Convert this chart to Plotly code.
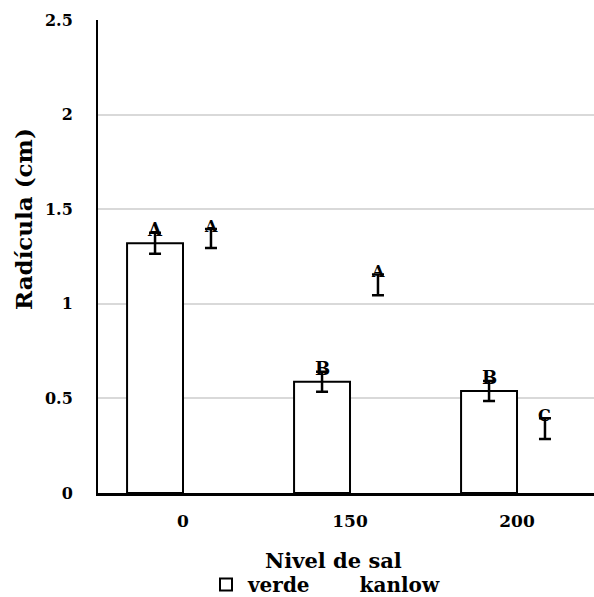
import plotly.graph_objects as go

categories = ["0", "150", "200"]
verde = [1.32, 0.588, 0.539]
verde_err = [0.055, 0.053, 0.053]
kanlow = [1.345, 1.10, 0.34]
kanlow_err = [0.05, 0.055, 0.055]
verde_letters = ["A", "B", "B"]
kanlow_letters = ["A", "A", "C"]
y_ticks = [0, 0.5, 1, 1.5, 2, 2.5]
y_ticktext = ["0", "0.5", "1", "1.5", "2", "2.5"]

FONT = "DejaVu Serif"
BW = 0.335
V_OFF = -0.335
K_OFF = 0.0

W, H = 594, 597
ML, MR, MT, MB = 98, 0, 20, 104
PW, PH = W - ML - MR, H - MT - MB


def px_x(p):
    return (p - ML) / PW


def px_y(p):
    return (H - MB - p) / PH


def f(size):
    return dict(family=FONT, size=size, color="black", weight="bold")


fig = go.Figure()
fig.add_trace(go.Bar(
    name="verde", x=categories, y=verde, width=BW, offset=V_OFF,
    marker=dict(color="white", line=dict(color="black", width=2)),
    error_y=dict(type="data", array=verde_err, color="black", thickness=2.5, width=6),
))
fig.add_trace(go.Bar(
    name="kanlow", x=categories, y=kanlow, width=BW, offset=K_OFF,
    marker=dict(color="rgba(255,255,255,0)", line=dict(color="rgba(0,0,0,0)", width=0)),
    error_y=dict(type="data", array=kanlow_err, color="black", thickness=2.5, width=6),
))

for i in range(len(categories)):
    fig.add_annotation(x=i + V_OFF + BW / 2, y=verde[i] + verde_err[i], text=verde_letters[i],
                       showarrow=False, yanchor="middle", yshift=3, font=f(18))
    fig.add_annotation(x=i + K_OFF + BW / 2, y=kanlow[i] + kanlow_err[i], text=kanlow_letters[i],
                       showarrow=False, yanchor="middle", yshift=3, font=f(16))

# axis titles
fig.add_annotation(xref="paper", yref="paper", x=px_x(333), y=px_y(560), text="Nivel de sal",
                   showarrow=False, xanchor="center", yanchor="middle", font=f(21))
fig.add_annotation(xref="paper", yref="paper", x=px_x(23), y=px_y(219), text="Radícula (cm)",
                   showarrow=False, xanchor="center", yanchor="middle", textangle=-90, font=f(23))

fig.update_layout(
    width=W, height=H,
    margin=dict(l=ML, r=MR, t=MT, b=MB, autoexpand=False),
    paper_bgcolor="white", plot_bgcolor="white",
    barmode="overlay",
    template="none",
    font=dict(family=FONT, color="black"),
    showlegend=True,
    legend=dict(orientation="h", x=px_x(204), xanchor="left", y=px_y(565), yanchor="top",
                font=f(20), itemwidth=34, traceorder="normal", bgcolor="rgba(0,0,0,0)"),
    xaxis=dict(
        type="category",
        range=[-0.509, 2.461], showgrid=False, zeroline=False,
        showline=True, linecolor="black", linewidth=2.5,
        ticks="", ticklabelstandoff=11, tickfont=f(17),
    ),
    yaxis=dict(
        range=[0, 2.5], tickvals=y_ticks, ticktext=y_ticktext,
        showgrid=True, gridcolor="#d9d9d9", gridwidth=1.5, zeroline=False,
        showline=True, linecolor="black", linewidth=2,
        ticks="", ticklabelstandoff=20, tickfont=f(16),
    ),
)

fig.write_html("out.html")
